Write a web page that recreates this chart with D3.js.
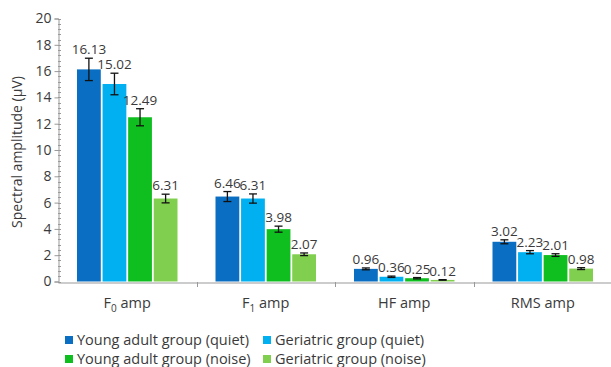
<!DOCTYPE html>
<html><head><meta charset="utf-8">
<script src="https://cdn.jsdelivr.net/npm/d3@7"></script>
<style>body{margin:0;background:#fff}svg{display:block}text{font-family:"Open Sans",sans-serif;fill:#3a3a3a}</style>
</head><body>
<svg id="c" width="611" height="367"></svg>
<script>
const categories = ["F0 amp", "F1 amp", "HF amp", "RMS amp"];
const seriesNames = ["Young adult group (quiet)", "Geriatric group (quiet)", "Young adult group (noise)", "Geriatric group (noise)"];
const seriesColors = ["#0a6fc2", "#00b0f0", "#0fbf1f", "#80cf4e"];
const youngQuiet = [16.13, 6.46, 0.96, 3.02];
const geriQuiet = [15.02, 6.31, 0.36, 2.23];
const youngNoise = [12.49, 3.98, 0.25, 2.01];
const geriNoise = [6.31, 2.07, 0.12, 0.98];
const errYoungQuiet = [0.85, 0.38, 0.07, 0.15];
const errGeriQuiet = [0.82, 0.35, 0.05, 0.12];
const errYoungNoise = [0.65, 0.23, 0.05, 0.1];
const errGeriNoise = [0.33, 0.1, 0.02, 0.07];
const yTicks = [0, 2, 4, 6, 8, 10, 12, 14, 16, 18, 20];

const values = [youngQuiet, geriQuiet, youngNoise, geriNoise];
const errs = [errYoungQuiet, errGeriQuiet, errYoungNoise, errGeriNoise];

const svg = d3.select("#c");
const x0 = d3.scaleBand().domain(categories).range([58, 612]).paddingInner(0).paddingOuter(0);
const x1 = d3.scaleBand().domain(d3.range(4)).range([19, x0.bandwidth() - 19]).paddingInner(0.07).paddingOuter(0);
const y = d3.scaleLinear().domain([0, 20]).range([281.5, 18.5]);

// minor ticks
const minor = d3.range(0, 20.001, 0.4);
svg.append("g").selectAll("line").data(minor).join("line")
  .attr("x1", 58).attr("x2", 61).attr("y1", d => Math.round(y(d)) + 0.5).attr("y2", d => Math.round(y(d)) + 0.5)
  .attr("stroke", "#999").attr("stroke-width", 1);

// y axis
const yAxis = svg.append("g").attr("transform", "translate(58.5,0)")
  .call(d3.axisLeft(y).tickValues(yTicks).tickSize(4).tickPadding(3).tickFormat(d3.format("d")));
yAxis.select(".domain").attr("stroke", "#999");
yAxis.selectAll(".tick line").attr("stroke", "#999");
yAxis.selectAll("text").attr("font-size", 14).style("fill", "#3a3a3a");

// x axis
const xAxis = svg.append("g").attr("transform", `translate(0,${Math.round(y(0)) + 0.5})`)
  .call(d3.axisBottom(x0).tickSize(0).tickFormat(""));
xAxis.select(".domain").attr("stroke", "#999");
// category separators
svg.append("g").selectAll("line").data(categories.slice(1)).join("line")
  .attr("x1", d => Math.round(x0(d)) + 0.5).attr("x2", d => Math.round(x0(d)) + 0.5)
  .attr("y1", Math.round(y(0))).attr("y2", Math.round(y(0)) + 5).attr("stroke", "#999");

// bars
const gCat = svg.append("g").selectAll("g").data(categories).join("g")
  .attr("transform", d => `translate(${x0(d)},0)`);
gCat.each(function(cat, ci) {
  const g = d3.select(this);
  for (let s = 0; s < 4; s++) {
    const v = values[s][ci], e = errs[s][ci];
    const bx = x1(s), bw = x1.bandwidth(), cx = bx + bw / 2;
    g.append("rect").attr("x", bx).attr("y", y(v)).attr("width", bw).attr("height", y(0) - y(v))
      .attr("fill", seriesColors[s]);
    const eg = g.append("g").attr("stroke", "#111").attr("stroke-width", 1.3);
    eg.append("line").attr("x1", cx).attr("x2", cx).attr("y1", y(v + e)).attr("y2", y(v - e));
    eg.append("line").attr("x1", cx - 4).attr("x2", cx + 4).attr("y1", y(v + e)).attr("y2", y(v + e));
    eg.append("line").attr("x1", cx - 4).attr("x2", cx + 4).attr("y1", y(v - e)).attr("y2", y(v - e));
    g.append("text").attr("x", cx).attr("y", y(v + e) - 4).attr("text-anchor", "middle")
      .attr("font-size", 13.5).text(d3.format(".2f")(v));
  }
});

// category labels with subscripts
const catLabel = svg.append("g").selectAll("text").data(categories).join("text")
  .attr("x", d => x0(d) + x0.bandwidth() / 2).attr("y", 308).attr("text-anchor", "middle").attr("font-size", 14.5);
catLabel.each(function(d) {
  const t = d3.select(this);
  if (d === "F0 amp" || d === "F1 amp") {
    t.append("tspan").text("F");
    t.append("tspan").attr("font-size", 10).attr("dy", 4).text(d[1]);
    t.append("tspan").attr("dy", -4).text(" amp");
  } else t.text(d);
});

// y label
svg.append("text").attr("transform", "translate(22,152) rotate(-90)").attr("text-anchor", "middle")
  .attr("font-size", 14).text("Spectral amplitude (μV)");

// legend
const legPos = [[65, 340], [263, 340], [65, 359], [263, 359]];
const leg = svg.append("g").selectAll("g").data(seriesNames).join("g")
  .attr("transform", (d, i) => `translate(${legPos[i][0]},${legPos[i][1]})`);
leg.append("rect").attr("x", 0).attr("y", -4).attr("width", 8).attr("height", 8).attr("fill", (d, i) => seriesColors[i]);
leg.append("text").attr("x", 12).attr("y", 5).attr("font-size", 14.5).text(d => d);
</script>
</body></html>
